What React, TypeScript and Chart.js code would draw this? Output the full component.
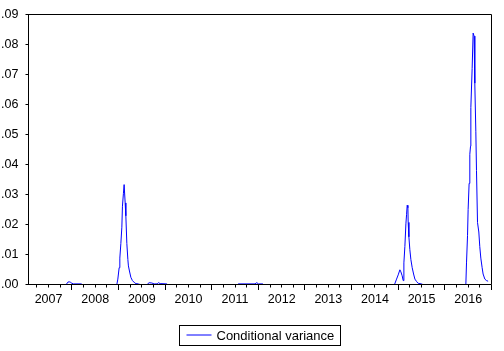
import React, { useEffect, useRef } from "react";
import { Chart, registerables } from "chart.js";

Chart.register(...registerables);

const seriesLabel = "Conditional variance";

// observation dates (fractional years) and conditional variance values
const obsDates = [
  2007.07, 2007.879, 2007.915, 2007.943, 2007.975, 2008.0, 2008.035, 2008.2, 2008.221,
  2008.965, 2008.986, 2009.014, 2009.029, 2009.051, 2009.072, 2009.085, 2009.106, 2009.121,
  2009.136, 2009.143, 2009.158, 2009.179, 2009.201, 2009.213, 2009.235, 2009.265, 2009.299,
  2009.357, 2009.393, 2009.464,
  2009.614, 2009.657, 2009.715, 2009.764, 2009.829, 2009.856, 2009.893, 2010.036, 2010.053,
  2011.553, 2011.571, 2011.928, 2011.965, 2012.003, 2012.093, 2012.11,
  2014.92, 2014.964, 2014.999, 2015.035, 2015.057, 2015.084, 2015.106, 2015.121, 2015.142,
  2015.164, 2015.179, 2015.192, 2015.207, 2015.213, 2015.228, 2015.249, 2015.271, 2015.299,
  2015.329, 2015.357, 2015.393, 2015.427, 2015.5, 2015.528,
  2016.45, 2016.464, 2016.486, 2016.499, 2016.52, 2016.535, 2016.55, 2016.557, 2016.585,
  2016.606, 2016.627, 2016.642, 2016.664, 2016.678, 2016.7, 2016.728, 2016.749, 2016.771,
  2016.799, 2016.82, 2016.857, 2016.893, 2016.927,
];

const condVariance = [
  0, 0, 0.0008, 0.0009, 0.0007, 0.0004, 0.0002, 0.0002, 0,
  0, 0.0018, 0.0056, 0.0088, 0.0137, 0.0191, 0.0261, 0.0304, 0.0333,
  0.0333, 0.0272, 0.0229, 0.0137, 0.0083, 0.0062, 0.0045, 0.0024, 0.0013,
  0.0004, 0.0003, 0,
  0, 0.0006, 0.0005, 0.0002, 0.0002, 0.0006, 0.0003, 0.0002, 0,
  0, 0.0002, 0.0002, 0.0006, 0.0002, 0.0002, 0,
  0, 0.0018, 0.0032, 0.0049, 0.0042, 0.0029, 0.0013, 0.0072, 0.0126,
  0.0202, 0.0234, 0.0264, 0.0256, 0.0207, 0.0159, 0.0116, 0.0083, 0.0056,
  0.0035, 0.0018, 0.001, 0.0004, 0.0002, 0,
  0, 0.0072, 0.0164, 0.025, 0.0337, 0.0434, 0.0461, 0.059, 0.072,
  0.0838, 0.0828, 0.0671, 0.0509, 0.038, 0.0207, 0.0175, 0.0126, 0.0088,
  0.0056, 0.0035, 0.0018, 0.0013, 0.0011,
];

const yearLabels = ["2007", "2008", "2009", "2010", "2011", "2012", "2013", "2014", "2015", "2016"];
const yTickValues = [0, 0.01, 0.02, 0.03, 0.04, 0.05, 0.06, 0.07, 0.08, 0.09];
const yTickLabels = [".00", ".01", ".02", ".03", ".04", ".05", ".06", ".07", ".08", ".09"];

const X_MIN = 2007.07;
const X_MAX = 2017.0;

// quarterly ticks; the mid-year tick carries the year label
const quarterTicks: number[] = [];
const quarterLabels: string[] = [];
yearLabels.forEach((lab) => {
  const y = parseInt(lab, 10);
  [0, 0.25, 0.5, 0.75].forEach((q) => {
    const v = y + q;
    if (v >= X_MIN && v <= X_MAX) {
      quarterTicks.push(v);
      quarterLabels.push(q === 0.5 ? lab : "");
    }
  });
});
quarterTicks.push(X_MAX);
quarterLabels.push("");

const FONT = "'Liberation Sans', Arial, sans-serif";

const framePlugin = {
  id: "frame",
  afterDatasetsDraw(chart: any) {
    const { ctx, chartArea } = chart;
    const { left, right, top, bottom } = chartArea;
    ctx.save();
    ctx.strokeStyle = "#000";
    ctx.lineWidth = 1;
    ctx.beginPath();
    ctx.rect(left, top, right - left, bottom - top);
    ctx.stroke();
    // longer ticks at year boundaries
    const xs = chart.scales.x;
    for (let y = Math.ceil(X_MIN); y <= X_MAX; y++) {
      const px = Math.round(xs.getPixelForValue(y) - 0.5) + 0.5;
      ctx.beginPath();
      ctx.moveTo(px, bottom);
      ctx.lineTo(px, bottom + 5.5);
      ctx.stroke();
    }
    ctx.restore();
  },
};

const boxLegendPlugin = {
  id: "boxLegend",
  afterDraw(chart: any) {
    const { ctx, chartArea } = chart;
    ctx.save();
    ctx.font = `13px ${FONT}`;
    const label = chart.data.datasets[0].label;
    const tw = ctx.measureText(label).width;
    const w = Math.round(7 + 25 + 5 + tw + 6);
    const h = 20;
    const cx = (chartArea.left + chartArea.right) / 2;
    const x0 = Math.round(cx - w / 2) - 0.5;
    const y0 = 325.5;
    ctx.strokeStyle = "#000";
    ctx.lineWidth = 1;
    ctx.strokeRect(x0, y0, w, h);
    ctx.strokeStyle = chart.data.datasets[0].borderColor;
    ctx.beginPath();
    ctx.moveTo(x0 + 7, y0 + 9.5);
    ctx.lineTo(x0 + 32, y0 + 9.5);
    ctx.stroke();
    ctx.fillStyle = "#000";
    ctx.textBaseline = "middle";
    ctx.textAlign = "left";
    ctx.fillText(label, x0 + 37, y0 + 10.5);
    ctx.restore();
  },
};

export default function App() {
  const ref = useRef<HTMLCanvasElement | null>(null);

  useEffect(() => {
    if (!ref.current) return;
    const chart = new Chart(ref.current, {
      type: "line",
      data: {
        datasets: [
          {
            label: seriesLabel,
            data: obsDates.map((d, i) => ({ x: d, y: condVariance[i] })),
            borderColor: "#0000ff",
            backgroundColor: "#0000ff",
            borderWidth: 1,
            pointRadius: 0,
            tension: 0,
            fill: false,
          },
        ],
      },
      options: {
        animation: false,
        responsive: false,
        maintainAspectRatio: false,
        devicePixelRatio: 1,
        layout: { padding: { top: 6.5, right: 12.5, left: 0, bottom: 0 } },
        plugins: {
          legend: { display: false },
          tooltip: { enabled: false },
        },
        scales: {
          x: {
            type: "linear",
            min: X_MIN,
            max: X_MAX,
            afterFit: (s: any) => {
              s.height = 66.5;
            },
            afterBuildTicks: (s: any) => {
              s.ticks = quarterTicks.map((v) => ({ value: v }));
            },
            grid: {
              display: true,
              drawOnChartArea: false,
              drawTicks: true,
              tickLength: 3,
              tickColor: "#000",
              tickWidth: 1,
            },
            border: { display: false },
            ticks: {
              autoSkip: false,
              maxRotation: 0,
              minRotation: 0,
              padding: 5,
              color: "#000",
              font: { family: FONT, size: 12.5 },
              callback: (_v: any, i: number) => quarterLabels[i],
            },
          },
          y: {
            min: 0,
            max: 0.09,
            afterFit: (s: any) => {
              s.width = 28.5;
            },
            afterBuildTicks: (s: any) => {
              s.ticks = yTickValues.map((v) => ({ value: v }));
            },
            grid: {
              display: true,
              drawOnChartArea: false,
              drawTicks: true,
              tickLength: 3,
              tickColor: "#000",
              tickWidth: 1,
            },
            border: { display: false },
            ticks: {
              padding: 7,
              color: "#000",
              font: { family: FONT, size: 12.5 },
              callback: (_v: any, i: number) => yTickLabels[i],
            },
          },
        },
      },
      plugins: [framePlugin, boxLegendPlugin],
    });
    return () => chart.destroy();
  }, []);

  return (
    <div style={{ position: "fixed", left: 0, top: 0, width: 504, height: 351, background: "#fff" }}>
      <canvas ref={ref} width={504} height={351} style={{ width: 504, height: 351 }} />
    </div>
  );
}
